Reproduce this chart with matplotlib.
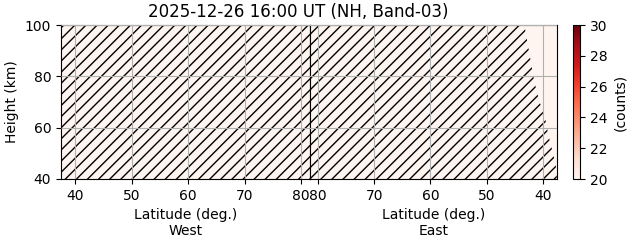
import numpy as np
import matplotlib
matplotlib.use("Agg")
import matplotlib.pyplot as plt
from matplotlib.colors import Normalize
from matplotlib.cm import ScalarMappable

title = "2025-12-26 16:00 UT (NH, Band-03)"
lat_ticks = [40, 50, 60, 70, 80]
height_ticks = [40, 60, 80, 100]
cbar_ticks = [20, 22, 24, 26, 28, 30]
vmin, vmax = 20, 30

# Missing-data (hatched) region boundaries
west_heights = [40, 100]
west_lat_lo = [37.5, 37.5]
east_heights = [40, 45, 50, 55, 60, 65, 70, 75, 80, 85, 90, 95, 100]
east_lat_lo = [37.5, 37.7, 38.2, 38.8, 39.3, 39.7, 40.6, 41.2, 41.7, 42.1, 42.5, 42.9, 43.3]
lat_hi = 81.5
lat_lo = 37.5

cmap = plt.get_cmap("Reds")
norm = Normalize(vmin=vmin, vmax=vmax)
bg = cmap(norm(vmin))

fig = plt.figure(figsize=(6.31, 2.43), dpi=100)
W, H = 631, 243
def rect(x0, y0, x1, y1):
    return [x0 / W, 1 - y1 / H, (x1 - x0) / W, (y1 - y0) / H]

axW = fig.add_axes(rect(61, 25, 309.5, 179))
axE = fig.add_axes(rect(309.5, 25, 557, 179))
cax = fig.add_axes(rect(573, 25, 580, 179))

for ax, hts, lo, side in [(axW, west_heights, west_lat_lo, "West"),
                          (axE, east_heights, east_lat_lo, "East")]:
    ax.set_facecolor(bg)
    ax.fill_betweenx(hts, lo, [lat_hi] * len(hts), facecolor="none",
                     edgecolor="black", hatch="///", linewidth=0, zorder=1)
    ax.set_ylim(40, 100)
    ax.set_xticks(lat_ticks)
    ax.set_yticks(height_ticks)
    ax.grid(True, zorder=2)
    ax.set_axisbelow(False)
    ax.set_xlabel("Latitude (deg.)\n" + side, fontsize=10)
    ax.tick_params(labelsize=10)

axW.set_xlim(lat_lo, lat_hi)
axE.set_xlim(lat_hi, lat_lo)
axW.set_ylabel("Height (km)", fontsize=10)
axE.tick_params(axis="y", left=False, labelleft=False)

sm = ScalarMappable(norm=norm, cmap=cmap)
cb = fig.colorbar(sm, cax=cax, ticks=cbar_ticks)
cb.set_label("(counts)", fontsize=10)
cb.ax.tick_params(labelsize=10)

fig.text(298.5 / W, 1 - 12 / H, title, ha="center", va="center", fontsize=12)

fig.savefig("out.png", dpi=100)
